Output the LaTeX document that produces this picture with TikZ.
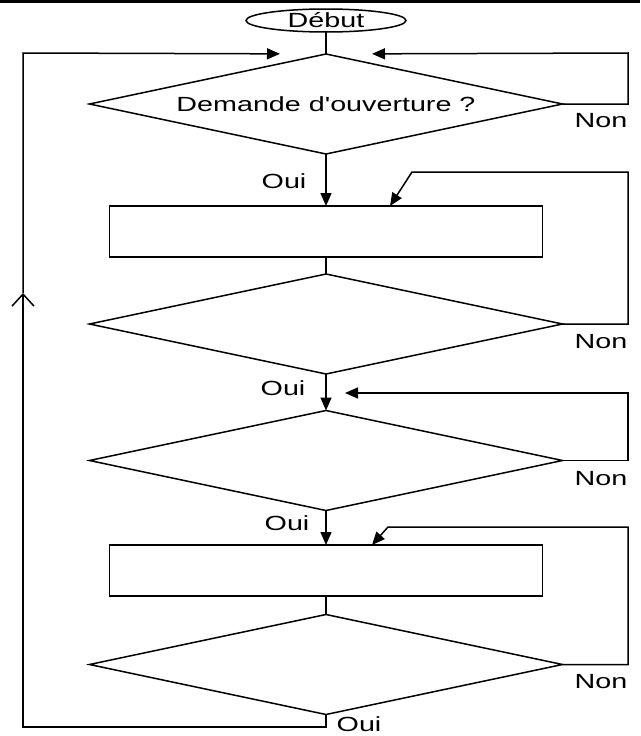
\documentclass[tikz,border=0pt]{standalone}
\usepackage{fontspec}
\newfontfamily\flowfont[FakeStretch=1.4]{Liberation Sans}
\usetikzlibrary{shapes.geometric,arrows.meta}
\begin{document}
\begin{tikzpicture}[x=1pt, y=-1pt, line width=1.5pt,
    font=\flowfont\fontsize{20.5pt}{24pt}\selectfont,
    test/.style={diamond, draw, shape aspect=4.73, minimum width=473pt, minimum height=100pt, inner sep=0pt, outer sep=0pt, text height=14.5pt, text depth=0pt},
    bloc/.style={rectangle, draw, minimum width=433pt, minimum height=51pt, inner sep=0pt, outer sep=0pt},
    rep/.style={inner sep=0pt, text height=14.5pt, text depth=0pt},
    arr/.style={-{Triangle[length=13pt,width=11pt]}}]
    \useasboundingbox (0,0) rectangle (640,736);
    \draw[line width=3pt] (0,1.5) -- (640,1.5);
    % boites
    \node[ellipse, draw, minimum width=160pt, minimum height=23pt, inner sep=0pt, outer sep=0pt, text height=14.5pt, text depth=0pt] (debut) at (326,20.5) {Début};
    \node[test] (d1) at (326,104) {Demande d'ouverture ?};
    \node[bloc] (r1) at (326,231.5) {};
    \node[test] (d2) at (326,324) {};
    \node[test] (d3) at (326,460.5) {};
    \node[bloc] (r2) at (326,570.5) {};
    \node[test] (d4) at (326,664.5) {};
    % coins des boucles
    \coordinate (rt1) at (628,53);
    \coordinate (rt2) at (628,172);
    \coordinate (k2) at (412,172);
    \coordinate (rt3) at (628,393);
    \coordinate (j3) at (326,393);
    \coordinate (rt4) at (628,527);
    \coordinate (k4) at (388,527);
    \coordinate (lb) at (23,727);
    \coordinate (lm) at (23,293);
    \coordinate (lt) at (23,53);
    % liaisons
    \path (debut) edge (d1);
    \path[arr] (d1) edge (r1);
    \path (r1) edge (d2);
    \path[arr] (d2) edge (d3);
    \path[arr] (d3) edge (r2);
    \path (r2) edge (d4);
    \draw[arr, shorten >=46pt] (d1.east) -| (rt1) -- (d1.north);
    \draw[arr] (d2.east) -| (rt2) -- (k2) -- ([xshift=64pt]r1.north);
    \draw[arr, shorten >=19pt] (d3.east) -| (rt3) -- (j3);
    \draw[arr] (d4.east) -| (rt4) -- (k4) -- ([xshift=46pt]r2.north);
    \draw[-{Straight Barb[length=12pt,width=22pt]}] (d4.south) |- (lb) -- (lm);
    \draw[arr, shorten >=46pt] (lm) -- (lt) -- (d1.north);
    % etiquettes
    \node[rep] (non1) at (601,120) {Non};
    \node[rep] (non2) at (601,341) {Non};
    \node[rep] (non3) at (601,478) {Non};
    \node[rep] (non4) at (601,681) {Non};
    \node[rep] (oui1) at (284,181) {Oui};
    \node[rep] (oui2) at (283,388) {Oui};
    \node[rep] (oui3) at (287,523) {Oui};
    \node[rep] (oui4) at (359,724) {Oui};
\end{tikzpicture}
\end{document}
